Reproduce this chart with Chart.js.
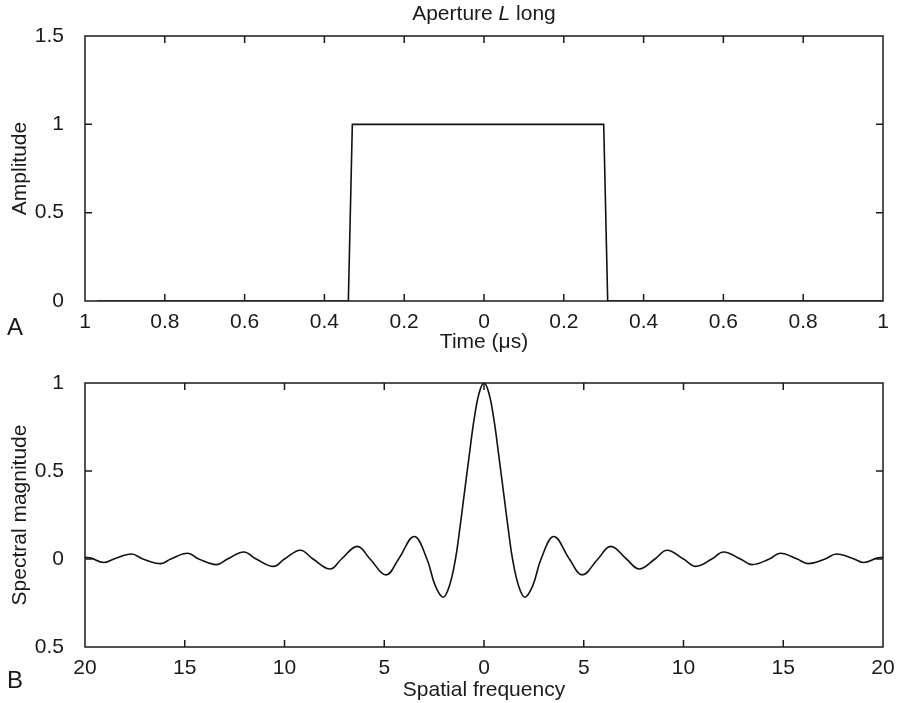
<!DOCTYPE html>
<html>
<head>
<meta charset="utf-8">
<script src="https://cdn.jsdelivr.net/npm/chart.js@4/dist/chart.umd.min.js"></script>
<style>
  body { margin: 0; background: #fff; }
  #wrap { position: relative; width: 905px; height: 703px; font-family: 'Liberation Sans', Arial, sans-serif; color: #1a1a1a; }
  canvas { position: absolute; left: 0; }
  .lbl { position: absolute; white-space: nowrap; }
</style>
</head>
<body>
<div id="wrap">
  <canvas id="top" width="905" height="355" style="top:0"></canvas>
  <canvas id="bottom" width="905" height="348" style="top:355px"></canvas>
  <div class="lbl" style="left:85px;width:798px;top:0px;text-align:center;font-size:21px;line-height:25px">Aperture <i>L</i> long</div>
  <div class="lbl" style="left:7px;top:315px;font-size:24px;line-height:24px">A</div>
  <div class="lbl" style="left:7px;top:668px;font-size:24px;line-height:24px">B</div>
</div>
<script>
// panel A: rectangular aperture
const timeX = [-0.97, -0.34, -0.33, 0.30, 0.31, 1.0];
const amplitude = [0, 0, 1, 1, 0, 0];
const timeTickLabels = ['1', '0.8', '0.6', '0.4', '0.2', '0', '0.2', '0.4', '0.6', '0.8', '1'];
const ampTickLabels = ['0', '0.5', '1', '1.5'];

// panel B: spectrum (ends, extrema, zero crossings)
const freqX = [-20, -19.7, -19.07, -18.55, -17.66, -17.1, -16.2, -15.7, -14.85, -14.3, -13.4, -12.85,
  -12.04, -11.42, -10.55, -10.0, -9.2, -8.57, -7.71, -7.14, -6.35, -5.71, -4.91, -4.28, -3.5, -2.86,
  -2.45, -2.05, -1.74, -1.43, -1.25, -1.0, -0.75, -0.5, -0.25, 0, 0.25, 0.5, 0.75, 1.0, 1.25, 1.43,
  1.74, 2.05, 2.45, 2.86, 3.5, 4.28, 4.92, 5.71, 6.35, 7.14, 7.78, 8.57, 9.17, 10.0, 10.62, 11.42,
  12.01, 12.85, 13.43, 14.3, 14.85, 15.7, 16.24, 17.1, 17.66, 18.55, 19.04, 19.7, 20];
const spectrum = [0.01, 0.005, -0.02, 0, 0.028, 0, -0.026, 0, 0.033, 0, -0.032, 0,
  0.04, 0, -0.042, 0, 0.05, 0, -0.057, 0, 0.072, 0, -0.09, 0, 0.128, 0,
  -0.15, -0.217, -0.155, 0, 0.14, 0.36, 0.58, 0.79, 0.94, 1, 0.94, 0.79, 0.58, 0.36, 0.14, 0,
  -0.155, -0.217, -0.15, 0, 0.128, 0, -0.09, 0, 0.072, 0, -0.057, 0, 0.05, 0, -0.042, 0,
  0.04, 0, -0.032, 0, 0.033, 0, -0.026, 0, 0.028, 0, -0.02, 0.005, 0.01];
const freqTickLabels = ['20', '15', '10', '5', '0', '5', '10', '15', '20'];
const specTickLabels = ['0.5', '0', '0.5', '1'];

Chart.defaults.font.family = "'Liberation Sans', Arial, sans-serif";
Chart.defaults.font.size = 21;
Chart.defaults.color = '#1a1a1a';

// box round the plot with short inward ticks on all four sides
const frame = {
  id: 'frame',
  afterDatasetsDraw(chart) {
    const { ctx, chartArea: a, scales: { x, y } } = chart;
    ctx.save();
    ctx.strokeStyle = '#1a1a1a';
    ctx.lineWidth = 1.5;
    ctx.strokeRect(a.left, a.top, a.width, a.height);
    ctx.beginPath();
    x.ticks.forEach(t => {
      const px = x.getPixelForValue(t.value);
      if (px < a.left + 2 || px > a.right - 2) return;
      ctx.moveTo(px, a.bottom); ctx.lineTo(px, a.bottom - 7);
      ctx.moveTo(px, a.top); ctx.lineTo(px, a.top + 7);
    });
    y.ticks.forEach(t => {
      const py = y.getPixelForValue(t.value);
      if (py < a.top + 2 || py > a.bottom - 2) return;
      ctx.moveTo(a.left, py); ctx.lineTo(a.left + 7, py);
      ctx.moveTo(a.right, py); ctx.lineTo(a.right - 7, py);
    });
    ctx.stroke();
    ctx.restore();
  }
};

function makeChart(id, xs, ys, o) {
  return new Chart(document.getElementById(id), {
    type: 'line',
    data: {
      datasets: [{
        data: xs.map((v, i) => ({ x: v, y: ys[i] })),
        borderColor: '#111',
        borderWidth: 1.6,
        pointRadius: 0,
        tension: o.tension
      }]
    },
    options: {
      responsive: false,
      animation: false,
      layout: { padding: { top: o.padTop, right: 22, left: 0, bottom: 0 } },
      plugins: { legend: { display: false }, tooltip: { enabled: false } },
      scales: {
        x: {
          type: 'linear',
          min: o.xMin, max: o.xMax,
          grid: { display: false },
          border: { display: false },
          ticks: { stepSize: o.xStep, padding: 1, maxRotation: 0, callback: (v, i) => o.xLabels[i] },
          title: { display: true, text: o.xTitle, padding: { top: 0, bottom: 0 } },
          afterFit: s => { s.height = o.xHeight; }
        },
        y: {
          min: o.yMin, max: o.yMax,
          grid: { display: false },
          border: { display: false },
          ticks: { stepSize: 0.5, padding: 13, callback: (v, i) => o.yLabels[i] },
          title: { display: true, text: o.yTitle, padding: { top: 8, bottom: 0 } },
          afterFit: s => { s.width = 85; }
        }
      }
    },
    plugins: [frame]
  });
}

makeChart('top', timeX, amplitude, {
  tension: 0, padTop: 36, xHeight: 54,
  xMin: -1, xMax: 1, xStep: 0.2, xLabels: timeTickLabels, xTitle: 'Time (μs)',
  yMin: 0, yMax: 1.5, yLabels: ampTickLabels, yTitle: 'Amplitude'
});

makeChart('bottom', freqX, spectrum, {
  tension: 0.4, padTop: 28, xHeight: 56,
  xMin: -20, xMax: 20, xStep: 5, xLabels: freqTickLabels, xTitle: 'Spatial frequency',
  yMin: -0.5, yMax: 1, yLabels: specTickLabels, yTitle: 'Spectral magnitude'
});
</script>
</body>
</html>
